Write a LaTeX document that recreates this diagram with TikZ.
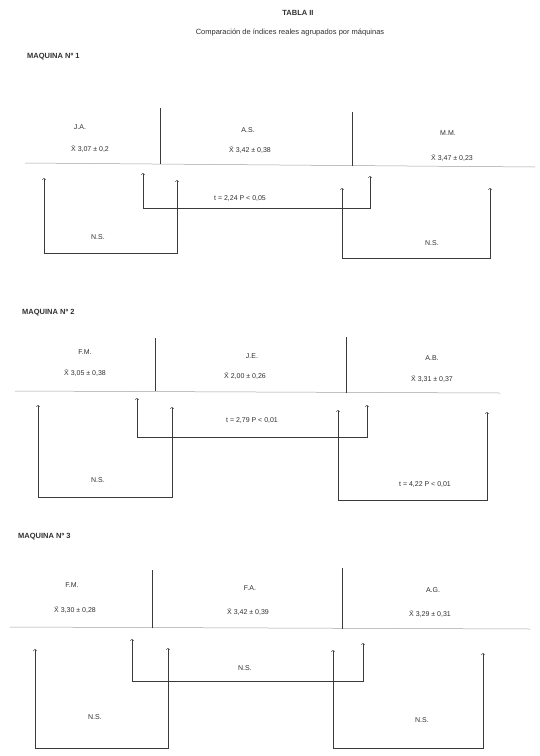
\documentclass[tikz,border=0pt]{standalone}
\usepackage{fontspec}
\setmainfont{Liberation Sans}
\usepackage{tikz}
\definecolor{inkc}{HTML}{3A3A3A}
\definecolor{rulec}{HTML}{A0A0A0}
\definecolor{textc}{HTML}{303030}

\tikzset{
  lbl/.style={font=\fontsize{7}{8}\selectfont, text=textc, inner sep=1pt},
  headlbl/.style={font=\fontsize{7.5}{9}\selectfont\bfseries, text=textc, anchor=west, inner sep=0pt},
  divider/.style={inkc, line width=0.6pt},
  baserule/.style={rulec, line width=0.5pt},
  bracket/.style={<->, inkc, line width=0.5pt}
}
\newcommand{\xbarra}{X\char"0304}

\begin{document}
\begin{tikzpicture}[x=1pt, y=-1pt]
  \useasboundingbox[fill=white] (0,0) rectangle (540,756);

  % title
  \node[lbl, font=\fontsize{7.5}{9}\selectfont\bfseries] (title) at (298,13) {TABLA II};
  \node[lbl, font=\fontsize{7.5}{9}\selectfont] (subtitle) at (290,33) {Comparación de índices reales agrupados por máquinas};

  % maquina 1
  \node[headlbl] (maq1) at (27,57) {MAQUINA Nº 1};
  \draw[baserule] (25,163) -- (535,167);
  \draw[divider] (160,108) -- (160,164);
  \draw[divider] (352,112) -- (352,166);
  \node[lbl] (ja) at (80,127) {J.A.};
  \node[lbl] (jaX) at (90,149) {\xbarra{} 3,07 ± 0,2};
  \node[lbl] (as) at (248,130) {A.S.};
  \node[lbl] (asX) at (250,150) {\xbarra{} 3,42 ± 0,38};
  \node[lbl] (mm) at (448,133) {M.M.};
  \node[lbl] (mmX) at (452,158) {\xbarra{} 3,47 ± 0,23};

  \coordinate (m1a) at (44,178);  \coordinate (m1b) at (177,180);  \coordinate (m1ab) at (44,253);
  \coordinate (m1c) at (143,173); \coordinate (m1d) at (370,176);  \coordinate (m1cd) at (143,208);
  \coordinate (m1e) at (342,188); \coordinate (m1f) at (490,188);  \coordinate (m1ef) at (342,258);
  \draw[bracket] (m1a) -- (m1ab) -| (m1b);
  \draw[bracket] (m1c) -- (m1cd) -| (m1d);
  \draw[bracket] (m1e) -- (m1ef) -| (m1f);
  \node[lbl] (ns11) at (98,237) {N.S.};
  \node[lbl] (t11) at (240,198) {t = 2,24 P < 0,05};
  \node[lbl] (ns12) at (432,243) {N.S.};

  % maquina 2
  \node[headlbl] (maq2) at (22,313) {MAQUINA Nº 2};
  \draw[baserule] (15,391) -- (500,393);
  \draw[divider] (155,338) -- (155,391);
  \draw[divider] (346,337) -- (346,393);
  \node[lbl] (fm) at (85,352) {F.M.};
  \node[lbl] (fmX) at (85,373) {\xbarra{} 3,05 ± 0,38};
  \node[lbl] (je) at (252,356) {J.E.};
  \node[lbl] (jeX) at (245,376) {\xbarra{} 2,00 ± 0,26};
  \node[lbl] (ab) at (432,358) {A.B.};
  \node[lbl] (abX) at (432,379) {\xbarra{} 3,31 ± 0,37};

  \coordinate (m2a) at (38,405);  \coordinate (m2b) at (172,407);  \coordinate (m2ab) at (38,497);
  \coordinate (m2c) at (137,398); \coordinate (m2d) at (367,405);  \coordinate (m2cd) at (137,437);
  \coordinate (m2e) at (338,410); \coordinate (m2f) at (487,412);  \coordinate (m2ef) at (338,500);
  \draw[bracket] (m2a) -- (m2ab) -| (m2b);
  \draw[bracket] (m2c) -- (m2cd) -| (m2d);
  \draw[bracket] (m2e) -- (m2ef) -| (m2f);
  \node[lbl] (ns21) at (98,480) {N.S.};
  \node[lbl] (t21) at (252,420) {t = 2,79 P < 0,01};
  \node[lbl] (t22) at (425,484) {t = 4,22 P < 0,01};

  % maquina 3
  \node[headlbl] (maq3) at (18,537) {MAQUINA Nº 3};
  \draw[baserule] (10,627) -- (530,629);
  \draw[divider] (152,570) -- (152,628);
  \draw[divider] (342,568) -- (342,629);
  \node[lbl] (fm3) at (72,585) {F.M.};
  \node[lbl] (fm3X) at (75,610) {\xbarra{} 3,30 ± 0,28};
  \node[lbl] (fa) at (250,588) {F.A.};
  \node[lbl] (faX) at (248,612) {\xbarra{} 3,42 ± 0,39};
  \node[lbl] (ag) at (433,590) {A.G.};
  \node[lbl] (agX) at (430,614) {\xbarra{} 3,29 ± 0,31};

  \coordinate (m3a) at (35,649);  \coordinate (m3b) at (168,648);  \coordinate (m3ab) at (35,748);
  \coordinate (m3c) at (132,639); \coordinate (m3d) at (363,643);  \coordinate (m3cd) at (132,681);
  \coordinate (m3e) at (333,650); \coordinate (m3f) at (483,653);  \coordinate (m3ef) at (333,748);
  \draw[bracket] (m3a) -- (m3ab) -| (m3b);
  \draw[bracket] (m3c) -- (m3cd) -| (m3d);
  \draw[bracket] (m3e) -- (m3ef) -| (m3f);
  \node[lbl] (ns31) at (95,717) {N.S.};
  \node[lbl] (ns32) at (245,668) {N.S.};
  \node[lbl] (ns33) at (422,720) {N.S.};
\end{tikzpicture}
\end{document}
